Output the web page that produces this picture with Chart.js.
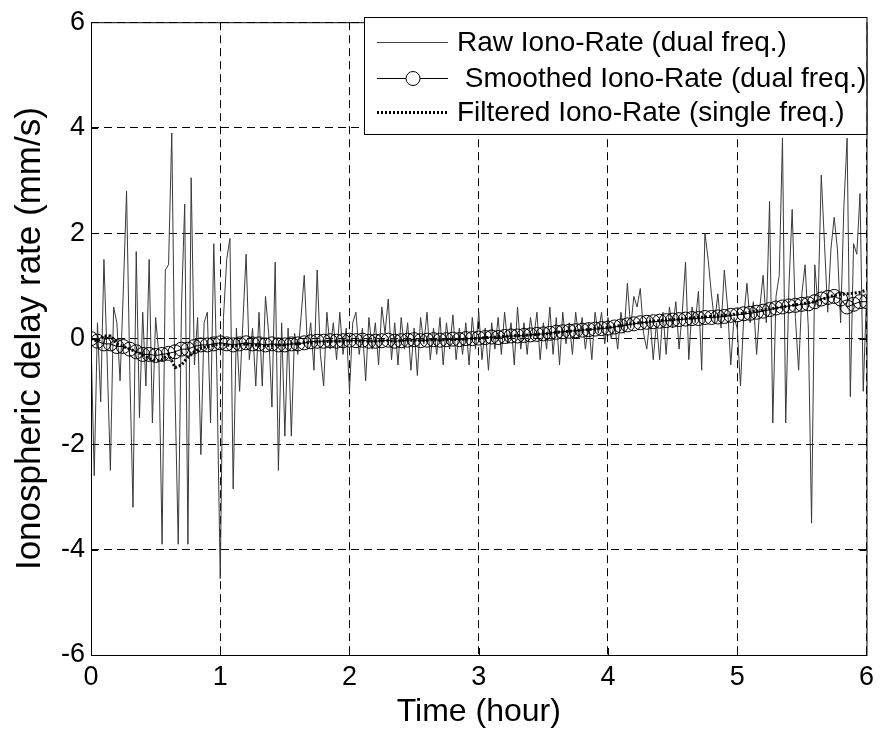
<!DOCTYPE html>
<html>
<head>
<meta charset="utf-8">
<script src="https://cdn.jsdelivr.net/npm/chart.js@4.4.0/dist/chart.umd.min.js"></script>
<style>
  body { margin: 0; background: #fff; }
  #wrap { width: 880px; height: 733px; }
</style>
</head>
<body>
<div id="wrap"><canvas id="rateChart" width="880" height="733"></canvas></div>
<script>
// Raw iono-rate samples, one every 0.025 hour, two rows per hour
const rawStep = 0.025;
const rawValues = [
    0.0, -2.6, 0.3, -1.2, 1.5, -0.4, -2.5, 0.6, 0.3, -0.8, 0.9, 2.8, -0.6, -3.2, 1.65, -1.5, 0.5, -0.9, 1.5, -1.6,
    0.4, -0.3, -3.9, 1.3, 1.4, 3.9, -1.0, -3.9, 0.6, 2.55, -3.9, 3.05, -0.5, 0.4, -2.2, 0.3, 0.5, -1.6, 1.8, -0.8,
    -4.55, 0.4, 1.5, 1.9, -2.85, 0.2, -1.0, 0.3, 1.6, -0.4, 0.2, -0.9, 0.5, -0.9, 0.8, 0.1, -1.3, 1.45, -2.5, 0.3,
    -1.85, 0.2, -1.85, 0.1, -0.3, 0.4, 1.2, -0.2, 0.3, -0.6, 1.3, -0.3, -0.9, 0.5, -0.2, 0.3, -0.4, 0.5, -0.3, 0.2,
    -1.0, 0.3, 0.5, -0.3, 0.2, -0.8, 0.4, -0.2, 0.3, -0.5, 0.6, 0.1, 0.75, -0.4, 0.3, -0.5, 0.4, -0.2, 0.3, -0.6,
    0.2, -0.7, 0.4, -0.1, 0.5, -0.4, 0.2, -0.3, 0.4, -0.5, 0.3, -0.2, 0.45, -0.4, 0.2, -0.3, 0.3, -0.5, 0.4, -0.2,
    0.5, -0.4, 0.2, -0.6, 0.3, -0.2, 0.4, -0.3, 0.5, -0.1, 0.3, -0.5, 0.6, -0.2, 0.3, -0.3, 0.4, 0.0, 0.5, -0.4,
    0.3, -0.2, 0.6, -0.3, 0.4, -0.5, 0.5, -0.1, 0.3, -0.3, 0.5, 0.0, 0.4, -0.2, 0.3, -0.4, 0.5, 0.1, 0.5, -0.1,
    0.4, 0.0, 0.3, -0.2, 0.5, 0.1, 1.05, 0.2, 0.8, 0.6, 0.95, 0.1, -0.2, 0.4, -0.4, 0.3, -0.4, 0.5, -0.3, 0.6,
    0.2, 0.7, -0.2, 0.5, 1.45, -0.4, 0.6, 0.3, 0.9, -0.6, 2.0, 1.5, 0.85, 0.3, 0.85, 0.2, 1.3, 0.6, -0.5, 0.4,
    0.2, -0.9, 0.4, 1.05, 0.3, 0.7, -0.3, 0.6, 1.2, 0.3, 2.6, -1.6, 0.8, 1.2, 3.8, -1.6, 1.0, 2.45, 0.4, -0.6,
    0.85, 1.4, 0.2, -3.5, 1.4, 0.6, 3.1, 1.8, 0.5, 1.7, 2.3, 1.7, 0.3, 2.5, 3.8, -1.1, 1.8, 1.6, 2.75, -1.0,
    0.8
];

// Smoothed (dual freq.) and filtered (single freq.), one every 0.05 hour
const smoothStep = 0.05;
const smoothedValues = [
    0.0, -0.05, -0.1, -0.1, -0.15, -0.15, -0.2, -0.25, -0.3, -0.3, -0.32, -0.3, -0.28, -0.25, -0.2, -0.2, -0.15, -0.12, -0.12, -0.1,
    -0.08, -0.1, -0.12, -0.1, -0.08, -0.1, -0.1, -0.12, -0.1, -0.12, -0.12, -0.1, -0.1, -0.08, -0.06, -0.05, -0.05, -0.04, -0.05, -0.04,
    -0.03, -0.04, -0.03, -0.05, -0.05, -0.04, -0.03, -0.05, -0.04, -0.03, -0.02, -0.04, -0.03, -0.02, -0.03, -0.02, -0.01, -0.02, 0.0, 0.0,
    0.01, 0.02, 0.03, 0.02, 0.04, 0.05, 0.05, 0.06, 0.07, 0.08, 0.09, 0.1, 0.12, 0.13, 0.14, 0.15, 0.16, 0.17, 0.18, 0.19,
    0.2, 0.22, 0.24, 0.26, 0.28, 0.3, 0.31, 0.32, 0.33, 0.34, 0.35, 0.36, 0.37, 0.38, 0.38, 0.4, 0.4, 0.41, 0.42, 0.44,
    0.45, 0.47, 0.48, 0.5, 0.52, 0.55, 0.58, 0.6, 0.62, 0.63, 0.65, 0.66, 0.7, 0.75, 0.78, 0.8, 0.75, 0.6, 0.65, 0.7,
    0.7
];
const filteredValues = [
    0.0, -0.05, 0.05, 0.05, -0.1, -0.15, -0.2, -0.25, -0.3, -0.38, -0.42, -0.4, -0.3, -0.55, -0.5, -0.35, -0.25, -0.18, -0.15, -0.12,
    -0.1, -0.12, -0.14, -0.12, -0.1, -0.12, -0.12, -0.14, -0.12, -0.12, -0.12, -0.1, -0.1, -0.08, -0.07, -0.06, -0.06, -0.05, -0.05, -0.05,
    -0.04, -0.05, -0.04, -0.05, -0.05, -0.04, -0.04, -0.05, -0.04, -0.03, -0.03, -0.04, -0.03, -0.02, -0.03, -0.02, -0.01, -0.02, -0.01, 0.0,
    0.0, 0.02, 0.02, 0.03, 0.04, 0.05, 0.06, 0.06, 0.07, 0.08, 0.09, 0.1, 0.12, 0.13, 0.14, 0.15, 0.16, 0.17, 0.19, 0.2,
    0.21, 0.23, 0.25, 0.27, 0.29, 0.3, 0.31, 0.33, 0.34, 0.35, 0.36, 0.37, 0.38, 0.39, 0.4, 0.41, 0.42, 0.43, 0.44, 0.45,
    0.47, 0.48, 0.5, 0.52, 0.54, 0.56, 0.58, 0.6, 0.62, 0.64, 0.66, 0.68, 0.7, 0.74, 0.78, 0.82, 0.84, 0.85, 0.86, 0.88,
    0.92
];

const xTicks = [0, 1, 2, 3, 4, 5, 6];
const yTicks = [-6, -4, -2, 0, 2, 4, 6];
const legendLabels = ['Raw Iono-Rate (dual freq.)', ' Smoothed Iono-Rate (dual freq.)', 'Filtered Iono-Rate (single freq.)'];

function toPoints(values, step) {
    return values.map((v, i) => ({ x: +(i * step).toFixed(3), y: v }));
}

const FONT = 'Liberation Sans, Arial, Helvetica, sans-serif';

// Box around the plot, inward ticks, and the MATLAB style legend
const framePlugin = {
    id: 'frame',
    afterDatasetsDraw(chart) {
        const { ctx, chartArea: a, scales } = chart;
        ctx.save();
        ctx.strokeStyle = '#000';
        ctx.lineWidth = 1;
        ctx.setLineDash([]);
        ctx.strokeRect(a.left + 0.5, a.top + 0.5, a.right - a.left, a.bottom - a.top);
        ctx.beginPath();
        xTicks.forEach(t => {
            const px = Math.round(scales.x.getPixelForValue(t)) + 0.5;
            ctx.moveTo(px, a.bottom); ctx.lineTo(px, a.bottom - 7);
            ctx.moveTo(px, a.top); ctx.lineTo(px, a.top + 7);
        });
        yTicks.forEach(t => {
            const py = Math.round(scales.y.getPixelForValue(t)) + 0.5;
            ctx.moveTo(a.left, py); ctx.lineTo(a.left + 7, py);
            ctx.moveTo(a.right, py); ctx.lineTo(a.right - 7, py);
        });
        ctx.stroke();

        // legend
        const bx = 364, by = 17, bw = a.right - 364, bh = 117;
        ctx.fillStyle = '#fff';
        ctx.fillRect(bx, by, bw, bh);
        ctx.strokeRect(bx + 0.5, by + 0.5, bw, bh);
        const rows = [42, 78, 112];
        ctx.font = '28px ' + FONT;
        ctx.textBaseline = 'middle';
        rows.forEach((ry, i) => {
            ctx.beginPath();
            ctx.strokeStyle = i === 0 ? '#444' : '#000';
            if (i === 2) { ctx.lineWidth = 3; ctx.setLineDash([2, 2]); }
            else { ctx.lineWidth = 1; ctx.setLineDash([]); }
            ctx.moveTo(377, ry + 0.5); ctx.lineTo(448, ry + 0.5);
            ctx.stroke();
            if (i === 1) {
                ctx.beginPath();
                ctx.fillStyle = '#fff';
                ctx.arc(413, ry + 0.5, 7, 0, Math.PI * 2);
                ctx.fill();
                ctx.lineWidth = 1;
                ctx.stroke();
            }
            ctx.fillStyle = '#000';
            ctx.fillText(legendLabels[i], 457, ry + 1);
        });
        ctx.restore();
    }
};

new Chart(document.getElementById('rateChart'), {
    type: 'line',
    data: {
        datasets: [
            {
                label: legendLabels[0],
                data: toPoints(rawValues, rawStep),
                borderColor: '#3a3a3a',
                borderWidth: 1,
                pointRadius: 0,
                tension: 0,
                order: 3
            },
            {
                label: legendLabels[1],
                data: toPoints(smoothedValues, smoothStep),
                borderColor: '#000',
                borderWidth: 1,
                pointRadius: 7,
                pointBorderWidth: 1,
                pointBorderColor: '#000',
                pointBackgroundColor: 'rgba(0,0,0,0)',
                tension: 0,
                order: 2
            },
            {
                label: legendLabels[2],
                data: toPoints(filteredValues, smoothStep),
                borderColor: '#000',
                borderWidth: 3,
                borderDash: [2, 2],
                pointRadius: 0,
                tension: 0,
                order: 1
            }
        ]
    },
    options: {
        responsive: false,
        animation: false,
        layout: { padding: { top: 17, right: 12, left: 0, bottom: 0 } },
        plugins: { legend: { display: false }, tooltip: { enabled: false } },
        scales: {
            x: {
                type: 'linear',
                min: 0,
                max: 6,
                afterFit(scale) { scale.height = 78; },
                afterBuildTicks(scale) { scale.ticks = xTicks.map(v => ({ value: v })); },
                border: { display: false, dash: [8, 5] },
                grid: { color: '#000', lineWidth: 1, drawTicks: false },
                ticks: { color: '#000', font: { family: FONT, size: 27 }, padding: 6 },
                title: {
                    display: true,
                    text: 'Time (hour)',
                    color: '#000',
                    font: { family: FONT, size: 32 },
                    padding: { top: 0, bottom: 2 }
                }
            },
            y: {
                min: -6,
                max: 6,
                afterFit(scale) { scale.width = 91; },
                afterBuildTicks(scale) { scale.ticks = yTicks.map(v => ({ value: v })); },
                border: { display: false, dash: [8, 5] },
                grid: { color: '#000', lineWidth: 1, drawTicks: false },
                ticks: { color: '#000', font: { family: FONT, size: 27 }, padding: 6 },
                title: {
                    display: true,
                    text: 'Ionospheric delay rate (mm/s)',
                    color: '#000',
                    font: { family: FONT, size: 35 },
                    padding: { top: 9, bottom: 0 }
                }
            }
        }
    },
    plugins: [framePlugin]
});
</script>
</body>
</html>
